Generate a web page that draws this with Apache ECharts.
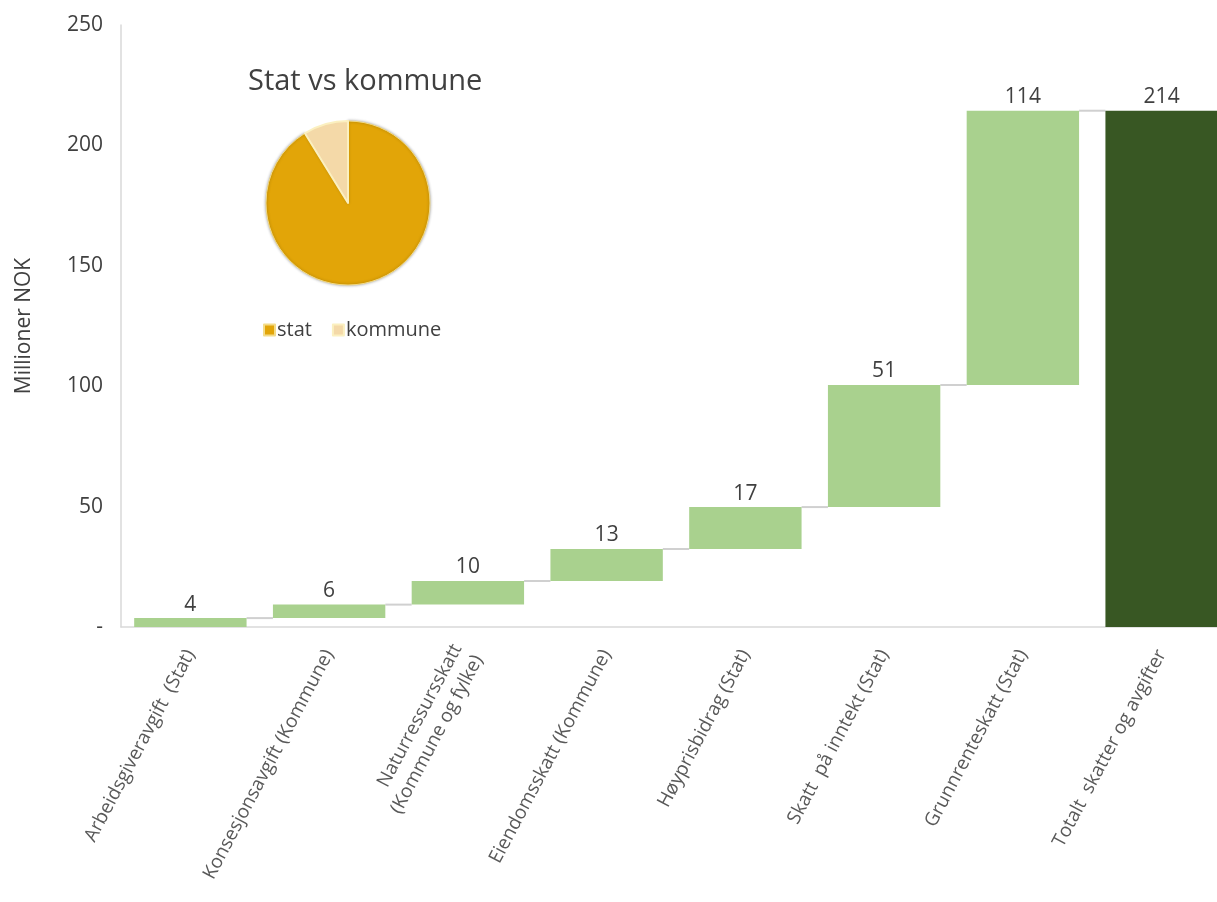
<!DOCTYPE html>
<html>
<head>
<meta charset="utf-8">
<title>Skatter og avgifter</title>
<script src="https://cdn.jsdelivr.net/npm/echarts@6/dist/echarts.min.js"></script>
<style>
  html, body { margin: 0; padding: 0; background: #ffffff; overflow: hidden; }
  /* plot runs past the right edge of the page, so the last bar is cut off */
  #chart { width: 1231px; height: 902px; }
</style>
</head>
<body>
<div id="chart"></div>
<script>
// Categories of the waterfall (tax contributions, million NOK)
const categories = [
  'Arbeidsgiveravgift  (Stat)',
  'Konsesjonsavgift (Kommune)',
  'Naturressursskatt\n(Kommune og fylke)',
  'Eiendomsskatt (Kommune)',
  'Høyprisbidrag (Stat)',
  'Skatt  på inntekt (Stat)',
  'Grunnrenteskatt (Stat)',
  'Totalt  skatter og avgifter'
];
// Contribution of each tax item
const increments = [3.7, 5.6, 9.8, 13.3, 17.4, 50.7, 113.9];
// Total of all taxes and fees
const total = 214.4;

// State vs municipality split
const pieNames = ['stat', 'kommune'];
const pieValues = [195.5, 18.9];

const FONT = '"Open Sans", "Noto Sans", sans-serif';
const BAR_RATIO = 0.81;

// Invisible base for the floating bars, and running totals for connectors
const bases = [];
const levels = [];
let running = 0;
increments.forEach(v => {
  bases.push(running);
  running += v;
  levels.push(running);
});
bases.push(0);

const visible = increments.map(v => ({ value: v }));
visible.push({ value: total, itemStyle: { color: '#385723' } });

const connectorData = levels.map((lv, i) => [i, lv]);

const chart = echarts.init(document.getElementById('chart'), null, { renderer: 'canvas' });

chart.setOption({
  animation: false,
  backgroundColor: '#ffffff',
  title: {
    text: 'Stat vs kommune',
    left: 243,
    top: 62,
    textStyle: { fontFamily: FONT, fontSize: 29, fontWeight: 'normal', color: '#404040' }
  },
  legend: {
    data: pieNames,
    left: 258,
    top: 315,
    itemWidth: 11,
    itemHeight: 11,
    itemGap: 20,
    icon: 'rect',
    textStyle: { fontFamily: FONT, fontSize: 20, color: '#404040', padding: [0, 0, 0, -3] }
  },
  grid: { left: 121, right: 0, top: 25, bottom: 275, containLabel: false },
  xAxis: {
    type: 'category',
    data: categories,
    axisLine: { show: true, lineStyle: { color: '#d9d9d9', width: 1.5 } },
    axisTick: { show: false },
    axisLabel: {
      interval: 0,
      rotate: 62,
      margin: 24,
      fontFamily: FONT,
      fontSize: 19,
      color: '#595959',
      lineHeight: 24
    }
  },
  yAxis: {
    type: 'value',
    min: 0,
    max: 250,
    interval: 50,
    name: 'Millioner NOK',
    nameLocation: 'middle',
    nameGap: 86,
    nameTextStyle: { fontFamily: FONT, fontSize: 21, color: '#404040' },
    axisLine: { show: true, lineStyle: { color: '#d9d9d9', width: 1.5 } },
    axisTick: { show: false },
    splitLine: { show: false },
    axisLabel: {
      margin: 18,
      fontFamily: FONT,
      fontSize: 21,
      color: '#404040',
      formatter: v => (v === 0 ? '-' : String(v))
    }
  },
  series: [
    {
      name: 'base',
      type: 'bar',
      stack: 'w',
      barWidth: (BAR_RATIO * 100) + '%',
      itemStyle: { color: 'transparent' },
      emphasis: { disabled: true },
      data: bases,
      z: 2
    },
    {
      name: 'verdi',
      type: 'bar',
      stack: 'w',
      barWidth: (BAR_RATIO * 100) + '%',
      itemStyle: { color: '#A9D18E' },
      label: {
        show: true,
        position: 'top',
        distance: 3,
        fontFamily: FONT,
        fontSize: 21,
        color: '#404040',
        formatter: p => String(Math.round(p.value))
      },
      data: visible,
      z: 2
    },
    {
      name: 'connector',
      type: 'custom',
      data: connectorData,
      z: 1,
      renderItem: function (params, api) {
        const p = api.coord([api.value(0), api.value(1)]);
        const band = api.size([1, 0])[0];
        const half = band * BAR_RATIO / 2;
        return {
          type: 'line',
          shape: { x1: p[0] + half, y1: p[1], x2: p[0] + band - half, y2: p[1] },
          style: { stroke: '#d0d0d0', lineWidth: 2 }
        };
      }
    },
    {
      name: 'Stat vs kommune',
      type: 'pie',
      center: [348, 203],
      radius: 82,
      startAngle: 90,
      clockwise: true,
      label: { show: false },
      labelLine: { show: false },
      emphasis: { disabled: true },
      data: pieNames.map((n, i) => ({
        name: n,
        value: pieValues[i],
        itemStyle: i === 0
          ? { color: '#E2A508', borderColor: '#F3DC8A', borderWidth: 1, shadowBlur: 3, shadowColor: 'rgba(0,0,0,0.35)' }
          : { color: '#F4D9A8', borderColor: '#FBF0C0', borderWidth: 2 }
      }))
    }
  ]
});
</script>
</body>
</html>
